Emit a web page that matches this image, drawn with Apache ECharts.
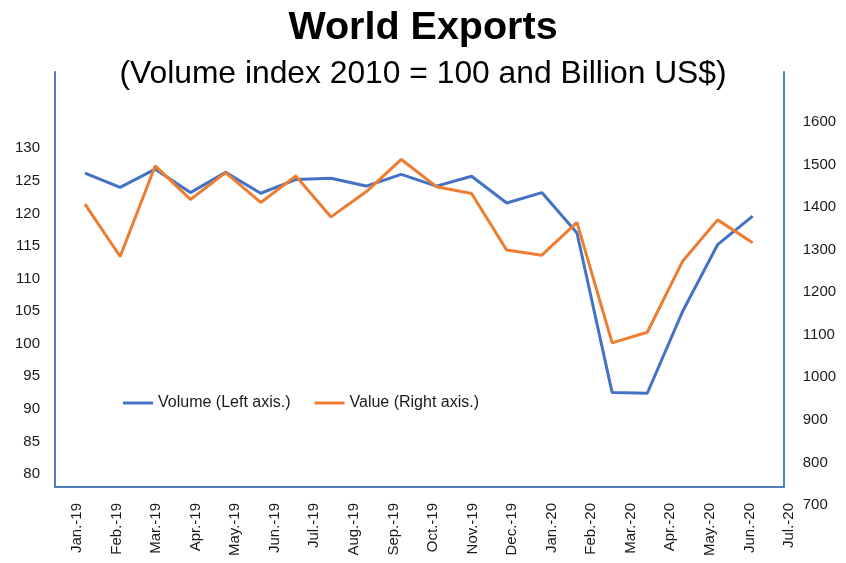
<!DOCTYPE html>
<html>
<head>
<meta charset="utf-8">
<script src="https://cdn.jsdelivr.net/npm/echarts@6/dist/echarts.min.js"></script>
<style>
html,body{margin:0;padding:0;background:#fff;}
#chart{width:846px;height:563px;}
</style>
</head>
<body>
<div id="chart"></div>
<script>
// Visible tick labels along the bottom
const tickLabels = ['Jan.-19','Feb.-19','Mar.-19','Apr.-19','May.-19','Jun.-19','Jul.-19','Aug.-19','Sep.-19','Oct.-19','Nov.-19','Dec.-19','Jan.-20','Feb.-20','Mar.-20','Apr.-20','May.-20','Jun.-20','Jul.-20'];
// Months of the plotted points
const dataMonths = ['Jan.-19','Feb.-19','Mar.-19','Apr.-19','May.-19','Jun.-19','Jul.-19','Aug.-19','Sep.-19','Oct.-19','Nov.-19','Dec.-19','Jan.-20','Feb.-20','Mar.-20','Apr.-20','May.-20','Jun.-20','Jul.-20','Aug.-20'];
// Volume index (2010 = 100), left axis
const volume = [126.2,124.0,126.8,123.2,126.3,123.1,125.2,125.4,124.2,126.0,124.2,125.7,121.6,123.2,117.0,92.5,92.4,104.9,115.2,119.6];
// Value, billion US$, right axis
const value = [1407,1284,1497,1418,1481,1411,1473,1377,1436,1512,1448,1432,1299,1287,1364,1081,1106,1272,1370,1316];

const FONT = '"Liberation Sans", Arial, sans-serif';
const AXIS_COLOR = '#4F81BD';
const TEXT = '#1a1a1a';

const chart = echarts.init(document.getElementById('chart'), null, {renderer: 'canvas'});

chart.setOption({
  backgroundColor: '#ffffff',
  animation: false,
  title: [
    {text: 'World Exports', left: 'center', top: 3,
     textStyle: {fontFamily: FONT, fontSize: 39.5, fontWeight: 'bold', color: '#000'}},
    {text: '(Volume index 2010 = 100 and Billion US$)', left: 'center', top: 53,
     textStyle: {fontFamily: FONT, fontSize: 31.8, fontWeight: 'normal', color: '#000'}}
  ],
  legend: {
    left: 123, top: 395, padding: 0, itemGap: 24, itemWidth: 30, itemHeight: 3,
    icon: 'rect',
    textStyle: {fontFamily: FONT, fontSize: 16, color: TEXT},
    data: ['Volume (Left axis.)', 'Value (Right axis.)']
  },
  grid: [
    // volume grid (left axis 80..130)
    {left: 85, right: 93.3, top: 148.3, bottom: 89, containLabel: false},
    // value grid (right axis 700..1600)
    {left: 85, right: 93.3, top: 122, bottom: 58, containLabel: false},
    // frame
    {left: 55, right: 62, top: 72, bottom: 76, containLabel: false},
    // bottom tick labels
    {left: 77, right: 57, top: 72, bottom: 73, containLabel: false}
  ],
  xAxis: [
    {gridIndex: 0, type: 'category', data: dataMonths, boundaryGap: false,
     axisLine: {show: false}, axisTick: {show: false}, axisLabel: {show: false}, splitLine: {show: false}},
    {gridIndex: 1, type: 'category', data: dataMonths, boundaryGap: false,
     axisLine: {show: false}, axisTick: {show: false}, axisLabel: {show: false}, splitLine: {show: false}},
    {gridIndex: 2, type: 'value', min: 0, max: 1,
     axisLine: {show: true, onZero: false, lineStyle: {color: AXIS_COLOR, width: 2}},
     axisTick: {show: false}, axisLabel: {show: false}, splitLine: {show: false}},
    {gridIndex: 3, type: 'category', data: tickLabels, boundaryGap: false, position: 'bottom',
     axisLine: {show: false}, axisTick: {show: false}, splitLine: {show: false},
     axisLabel: {show: true, interval: 0, rotate: 90, margin: 13,
                 fontFamily: FONT, fontSize: 15, color: TEXT}}
  ],
  yAxis: [
    {gridIndex: 0, type: 'value', position: 'left', min: 80, max: 130, interval: 5,
     axisLine: {show: false}, axisTick: {show: false}, splitLine: {show: false},
     axisLabel: {show: true, margin: 45, fontFamily: FONT, fontSize: 15, color: TEXT,
                 formatter: v => String(v)}},
    {gridIndex: 1, type: 'value', position: 'right', min: 700, max: 1600, interval: 100,
     axisLine: {show: false}, axisTick: {show: false}, splitLine: {show: false},
     axisLabel: {show: true, margin: 50, fontFamily: FONT, fontSize: 15, color: TEXT,
                 formatter: v => String(v)}},
    {gridIndex: 2, type: 'value', position: 'left', min: 0, max: 1,
     axisLine: {show: true, onZero: false, lineStyle: {color: AXIS_COLOR, width: 2}},
     axisTick: {show: false}, axisLabel: {show: false}, splitLine: {show: false}},
    {gridIndex: 2, type: 'value', position: 'right', min: 0, max: 1,
     axisLine: {show: true, onZero: false, lineStyle: {color: AXIS_COLOR, width: 2}},
     axisTick: {show: false}, axisLabel: {show: false}, splitLine: {show: false}},
    {gridIndex: 3, type: 'value', show: false}
  ],
  series: [
    {name: 'Volume (Left axis.)', type: 'line', xAxisIndex: 0, yAxisIndex: 0,
     data: volume, symbol: 'none', smooth: false,
     lineStyle: {color: '#4472C4', width: 3}, itemStyle: {color: '#4472C4'}, z: 3},
    {name: 'Value (Right axis.)', type: 'line', xAxisIndex: 1, yAxisIndex: 1,
     data: value, symbol: 'none', smooth: false,
     lineStyle: {color: '#ED7D31', width: 3}, itemStyle: {color: '#ED7D31'}, z: 4}
  ]
});
</script>
</body>
</html>
